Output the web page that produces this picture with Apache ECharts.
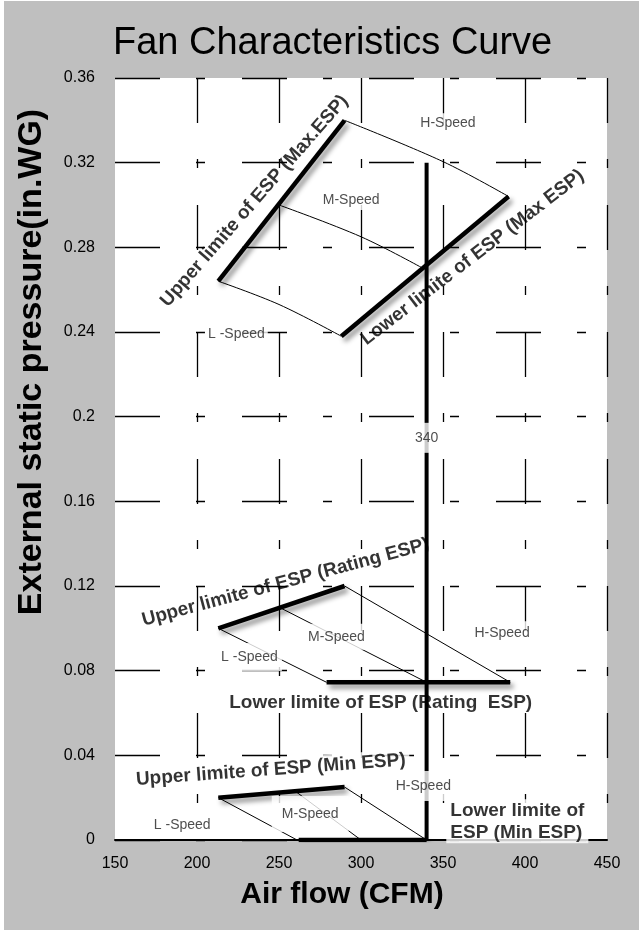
<!DOCTYPE html>
<html>
<head>
<meta charset="utf-8">
<script src="https://cdn.jsdelivr.net/npm/echarts@6/dist/echarts.min.js"></script>
<style>
  html, body { margin: 0; padding: 0; background: #fff; }
  #main { position: absolute; left: 4px; top: 1px; width: 635px; height: 929px; }
</style>
</head>
<body>
<div id="main"></div>
<script>
// Max ESP group
const maxUpper = [[213, 0.264], [290, 0.340]];
const maxLower = [[288, 0.238], [390, 0.304]];
const maxH = [[290, 0.340], [350, 0.3205], [390, 0.304]];
const maxM = [[250, 0.300], [300, 0.285], [338, 0.270]];
const maxL = [[213, 0.264], [250, 0.253], [288, 0.238]];
// Rating ESP group
const ratingUpper = [[213, 0.100], [290, 0.120]];
const ratingLower = [[279, 0.0745], [391, 0.0745]];
const ratingH = [[290, 0.120], [391, 0.0745]];
const ratingM = [[250, 0.110], [340, 0.0745]];
const ratingL = [[213, 0.100], [279, 0.0745]];
// Min ESP group
const minUpper = [[213, 0.020], [290, 0.025]];
const minLower = [[262, 0.0], [340, 0.0]];
const minH = [[290, 0.025], [340, 0.0]];
const minM = [[260, 0.023], [300, 0.0]];
const minL = [[213, 0.020], [261, 0.0]];
// rated air flow
const ratedFlow = [[340, 0], [340, 0.32]];

// [x, y, text]
const speedLabels = [
  [353, 0.3386, 'H-Speed'],
  [294, 0.3024, 'M-Speed'],
  [224, 0.239, 'L -Speed'],
  [386, 0.0977, 'H-Speed'],
  [285, 0.096, 'M-Speed'],
  [232, 0.0865, 'L -Speed'],
  [338, 0.0255, 'H-Speed'],
  [269, 0.0123, 'M-Speed'],
  [191, 0.0071, 'L -Speed'],
  [340, 0.19, '340']
];
// [x, y, text, angle]
const limitLabels = [
  [235, 0.3019, 'Upper limite of ESP (Max.ESP)', 48.8],
  [368, 0.2752, 'Lower limite of ESP (Max ESP)', 37.5],
  [254, 0.1217, 'Upper limite of ESP (Rating ESP)', 15],
  [312, 0.0647, 'Lower limite of ESP (Rating  ESP)', 0],
  [245, 0.0331, 'Upper limite of ESP (Min ESP)', 4.2],
  [352, 0.0088, 'Lower limite of\nESP (Min ESP)', 0]
];

const xMin = 150, xMax = 450, xStep = 50;
const yMin = 0, yMax = 0.36, yStep = 0.04;

const chart = echarts.init(document.getElementById('main'));
const font = 'Liberation Sans';
const dash = [45, 36, 9, 37];

function thin(data, smooth) {
  return {
    type: 'line', data: data, symbol: 'none', smooth: smooth ? 0.35 : false,
    lineStyle: { color: '#000', width: 1 }, z: 3, silent: true
  };
}
function thick(data) {
  return {
    type: 'line', data: data, symbol: 'none',
    lineStyle: {
      color: '#000', width: 4.5,
      shadowColor: 'rgba(0,0,0,0.45)', shadowBlur: 5, shadowOffsetX: 3, shadowOffsetY: 4
    },
    z: 4, silent: true
  };
}

let series = [
  thin(maxH, true), thin(maxM, true), thin(maxL, true),
  thin(ratingH), thin(ratingM), thin(ratingL),
  thin(minH), thin(minM), thin(minL),
  thick(maxUpper), thick(maxLower),
  thick(ratingUpper), thick(ratingLower),
  thick(minUpper), thick(minLower),
  { type: 'line', data: ratedFlow, symbol: 'none', lineStyle: { color: '#000', width: 4 }, z: 4, silent: true }
];

// speed label padding (white boxes cover lines beneath)
const speedPad = [[3, 3], [3, 3], [3, 3], [5, 4], [6, 4], [7, 4], [8, 6], [11, 10], [3, 3], [8, 2]];

series.push({
  type: 'scatter', symbolSize: 1, itemStyle: { color: 'rgba(0,0,0,0)' }, z: 6, silent: true,
  data: speedLabels.map((d, i) => ({
    value: [d[0], d[1]],
    label: {
      show: true, position: 'inside', formatter: d[2],
      color: '#222', fontFamily: font, fontSize: 14,
      backgroundColor: '#fff', padding: speedPad[i]
    }
  }))
});

series.push({
  type: 'scatter', symbolSize: 1, itemStyle: { color: 'rgba(0,0,0,0)' }, z: 7, silent: true,
  data: limitLabels.map((d, i) => ({
    value: [d[0], d[1]],
    label: {
      show: true, position: 'inside', formatter: d[2], rotate: d[3],
      color: '#000', fontFamily: font, fontSize: 19, fontWeight: 'bold',
      align: i === 5 ? 'left' : 'center', lineHeight: 22,
      backgroundColor: i >= 4 ? '#fff' : 'transparent', padding: i >= 4 ? [0, 4] : 0
    }
  }))
});

chart.setOption({
  backgroundColor: '#bfbfbf',
  animation: false,
  title: {
    text: 'Fan Characteristics Curve', left: 104, top: 19,
    textStyle: { fontFamily: font, fontSize: 38, fontWeight: 'normal', color: '#000' }
  },
  grid: { left: 111, right: 32, top: 77, bottom: 90, show: true, backgroundColor: '#fff', borderWidth: 0 },
  xAxis: {
    type: 'value', min: xMin, max: xMax, interval: xStep,
    name: 'Air flow (CFM)', nameLocation: 'middle', nameGap: 40,
    nameTextStyle: { fontFamily: font, fontSize: 30, fontWeight: 'bold', color: '#000', padding: [0, 38, 0, 0] },
    axisLine: { show: true, onZero: false, lineStyle: { color: '#000', width: 2 } },
    axisTick: { show: false },
    axisLabel: { fontFamily: font, fontSize: 16, color: '#000', margin: 16 },
    splitLine: { show: true, showMinLine: false, lineStyle: { color: '#000', width: 1.3, type: dash } }
  },
  yAxis: {
    type: 'value', min: yMin, max: yMax, interval: yStep,
    name: 'External static pressure(in.WG)', nameLocation: 'middle', nameGap: 66,
    nameTextStyle: { fontFamily: font, fontSize: 34, fontWeight: 'bold', color: '#000', padding: [0, 0, 0, 194] },
    axisLine: { show: false },
    axisTick: { show: false },
    axisLabel: { fontFamily: font, fontSize: 16, color: '#000', margin: 20 },
    splitLine: { show: true, lineStyle: { color: '#000', width: 1.3, type: dash } }
  },
  series: series
});
</script>
</body>
</html>
